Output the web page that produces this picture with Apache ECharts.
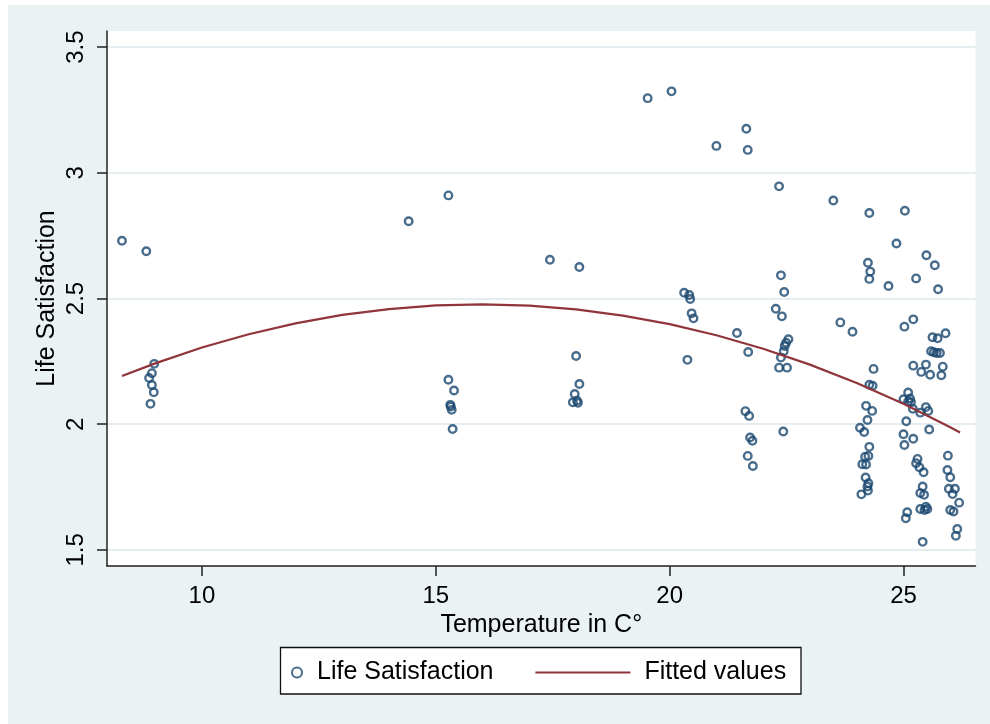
<!DOCTYPE html>
<html>
<head>
<meta charset="utf-8">
<script src="https://cdn.jsdelivr.net/npm/echarts@6/dist/echarts.min.js"></script>
<style>
  html, body { margin: 0; padding: 0; background: #ffffff; }
  #wrap { position: relative; width: 990px; height: 724px; background: #ffffff; }
  #chart { position: absolute; left: 8px; top: 5px; width: 982px; height: 719px; }
</style>
</head>
<body>
<div id="wrap"><div id="chart"></div></div>
<script>
// ---- data ----
const tempC = [
  8.29, 8.81, 8.98, 8.93, 8.87, 8.93, 8.97, 8.90,
  14.42, 15.27, 15.27, 15.39, 15.31, 15.32, 15.34, 15.36,
  17.44, 18.07, 18.00, 18.07, 17.97, 17.93, 18.02, 18.04,
  19.53, 20.04, 20.31, 20.42, 20.44, 20.47, 20.51, 20.38,
  21.00, 21.64, 21.67, 21.44, 21.68, 21.62, 21.70, 21.72, 21.77, 21.67, 21.78,
  22.34, 22.38, 22.45, 22.27, 22.40, 22.54, 22.49, 22.46, 22.44, 22.38, 22.34, 22.51, 22.43,
  23.50, 23.65, 23.91,
  24.27, 24.24, 24.29, 24.27, 24.68, 24.85, 25.03, 25.49, 25.67, 25.27, 25.74,
  25.02, 25.21, 25.62, 25.73, 25.90, 25.59, 25.65, 25.71, 25.78,
  25.21, 25.48, 25.38, 25.57, 25.84, 25.81,
  24.36, 24.27, 24.34,
  25.10, 25.00, 25.14, 25.16, 25.10, 25.20, 25.36, 25.48, 25.53,
  24.20, 24.33, 24.23, 24.07, 24.16, 24.27,
  25.06, 25.55, 25.00, 25.21, 25.02,
  24.25, 24.18, 24.20, 24.12, 24.19, 24.25, 24.23, 24.24, 24.10,
  25.30, 25.27, 25.34, 25.43, 25.41, 25.36, 25.44, 25.36, 25.48, 25.51, 25.45, 25.08, 25.05, 25.41,
  25.95, 25.94, 26.00, 25.97, 26.10, 26.05, 26.19, 26.00, 26.07, 26.15, 26.12
];
const lifeSat = [
  2.730, 2.688, 2.240, 2.203, 2.184, 2.156, 2.127, 2.081,
  2.807, 2.910, 2.177, 2.134, 2.077, 2.070, 2.057, 1.981,
  2.654, 2.625, 2.271, 2.160, 2.120, 2.087, 2.093, 2.085,
  3.297, 3.324, 2.523, 2.514, 2.498, 2.441, 2.421, 2.256,
  3.107, 3.175, 3.091, 2.363, 2.287, 2.052, 2.033, 1.947, 1.934, 1.874, 1.834,
  2.946, 2.592, 2.526, 2.459, 2.429, 2.338, 2.324, 2.311, 2.290, 2.265, 2.225, 2.225, 1.971,
  2.890, 2.405, 2.368,
  2.840, 2.642, 2.607, 2.578, 2.550, 2.719, 2.849, 2.672, 2.632, 2.580, 2.537,
  2.388, 2.417, 2.346, 2.342, 2.362, 2.290, 2.286, 2.283, 2.283,
  2.233, 2.237, 2.208, 2.197, 2.229, 2.195,
  2.220, 2.157, 2.153,
  2.126, 2.099, 2.102, 2.088, 2.090, 2.061, 2.046, 2.068, 2.053,
  2.073, 2.053, 2.017, 1.986, 1.969, 1.910,
  2.012, 1.979, 1.960, 1.942, 1.917,
  1.874, 1.871, 1.840, 1.841, 1.788, 1.765, 1.752, 1.736, 1.721,
  1.862, 1.845, 1.829, 1.809, 1.752, 1.726, 1.719, 1.663, 1.672, 1.663, 1.659, 1.650, 1.626, 1.532,
  1.875, 1.818, 1.789, 1.743, 1.743, 1.722, 1.688, 1.659, 1.653, 1.583, 1.556
];
// fitted curve at a set of temperatures
const fitTemp  = [8.29, 9, 10, 11, 12, 13, 14, 15, 16, 17, 18, 19, 20, 21, 22, 23, 24, 25, 26, 26.21];
const fitValue = [2.192, 2.242, 2.305, 2.358, 2.401, 2.435, 2.458, 2.473, 2.477, 2.472, 2.457, 2.432, 2.398, 2.354, 2.300, 2.237, 2.164, 2.081, 1.988, 1.967];
// ticks
const xTicks = [10, 15, 20, 25];
const yTicks = [1.5, 2, 2.5, 3, 3.5];
const seriesNames = ['Life Satisfaction', 'Fitted values'];

const FONT = '"Liberation Sans", Arial, Helvetica, sans-serif';
const chart = echarts.init(document.getElementById('chart'), null, { renderer: 'canvas' });

const axisCommon = {
  type: 'value',
  axisLine: { show: true, onZero: false, lineStyle: { color: '#222', width: 1.5 } },
  axisTick: { show: true, length: 10, lineStyle: { color: '#222', width: 1.5 } },
  splitLine: { show: true, lineStyle: { color: '#e4eef0', width: 2 } },
  axisLabel: { color: '#000', fontSize: 24, fontFamily: FONT },
  nameLocation: 'middle',
  nameTextStyle: { color: '#000', fontSize: 25, fontFamily: FONT }
};

const option = {
  animation: false,
  backgroundColor: '#eaf2f3',
  textStyle: { fontFamily: FONT },
  grid: { left: 99, top: 26, width: 868.5, height: 535, show: true, backgroundColor: '#ffffff', borderWidth: 0 },
  xAxis: Object.assign({}, axisCommon, {
    min: 7.97, max: 26.54,
    name: 'Temperature in C°',
    nameGap: 39,
    axisTick: Object.assign({}, axisCommon.axisTick, { customValues: xTicks }),
    axisLabel: Object.assign({}, axisCommon.axisLabel, { customValues: xTicks, margin: 18 }),
    splitLine: { show: false }
  }),
  yAxis: Object.assign({}, axisCommon, {
    min: 1.436, max: 3.564,
    name: 'Life Satisfaction',
    nameGap: 47,
    nameMoveOverlap: false,
    axisTick: Object.assign({}, axisCommon.axisTick, { customValues: yTicks }),
    axisLabel: Object.assign({}, axisCommon.axisLabel, { customValues: yTicks, rotate: 90, margin: 19 })
  }),
  legend: [
    {
      data: [seriesNames[0]], left: 283, top: 655, padding: 0,
      itemWidth: 30, itemHeight: 10, icon: 'circle',
      textStyle: { color: '#000', fontSize: 25, fontFamily: FONT }
    },
    {
      data: [seriesNames[1]], left: 526.3, top: 655, padding: 0,
      itemWidth: 95, itemHeight: 10,
      itemStyle: { color: 'rgba(0,0,0,0)', borderWidth: 0, opacity: 0 },
      lineStyle: { color: '#90353b', width: 2.2 },
      textStyle: { color: '#000', fontSize: 25, fontFamily: FONT, padding: [0, 0, 0, 9] }
    }
  ],
  graphic: [
    { type: 'rect', z: 1, shape: { x: 272.5, y: 642.5, width: 520.5, height: 46.5 },
      style: { fill: '#ffffff', stroke: '#111', lineWidth: 1.3 } }
  ],
  series: [
    {
      name: seriesNames[0], type: 'scatter', z: 2,
      symbol: 'circle', symbolSize: 7.5,
      itemStyle: { color: 'rgba(255,255,255,0)', borderColor: '#1a476f', borderWidth: 2.4 },
      data: tempC.map((t, i) => [t, lifeSat[i]])
    },
    {
      name: seriesNames[1], type: 'line', z: 3,
      symbol: 'none', showSymbol: false, smooth: false,
      lineStyle: { color: '#90353b', width: 2.2 },
      itemStyle: { color: '#90353b' },
      data: fitTemp.map((t, i) => [t, fitValue[i]])
    }
  ]
};
chart.setOption(option);
</script>
</body>
</html>
